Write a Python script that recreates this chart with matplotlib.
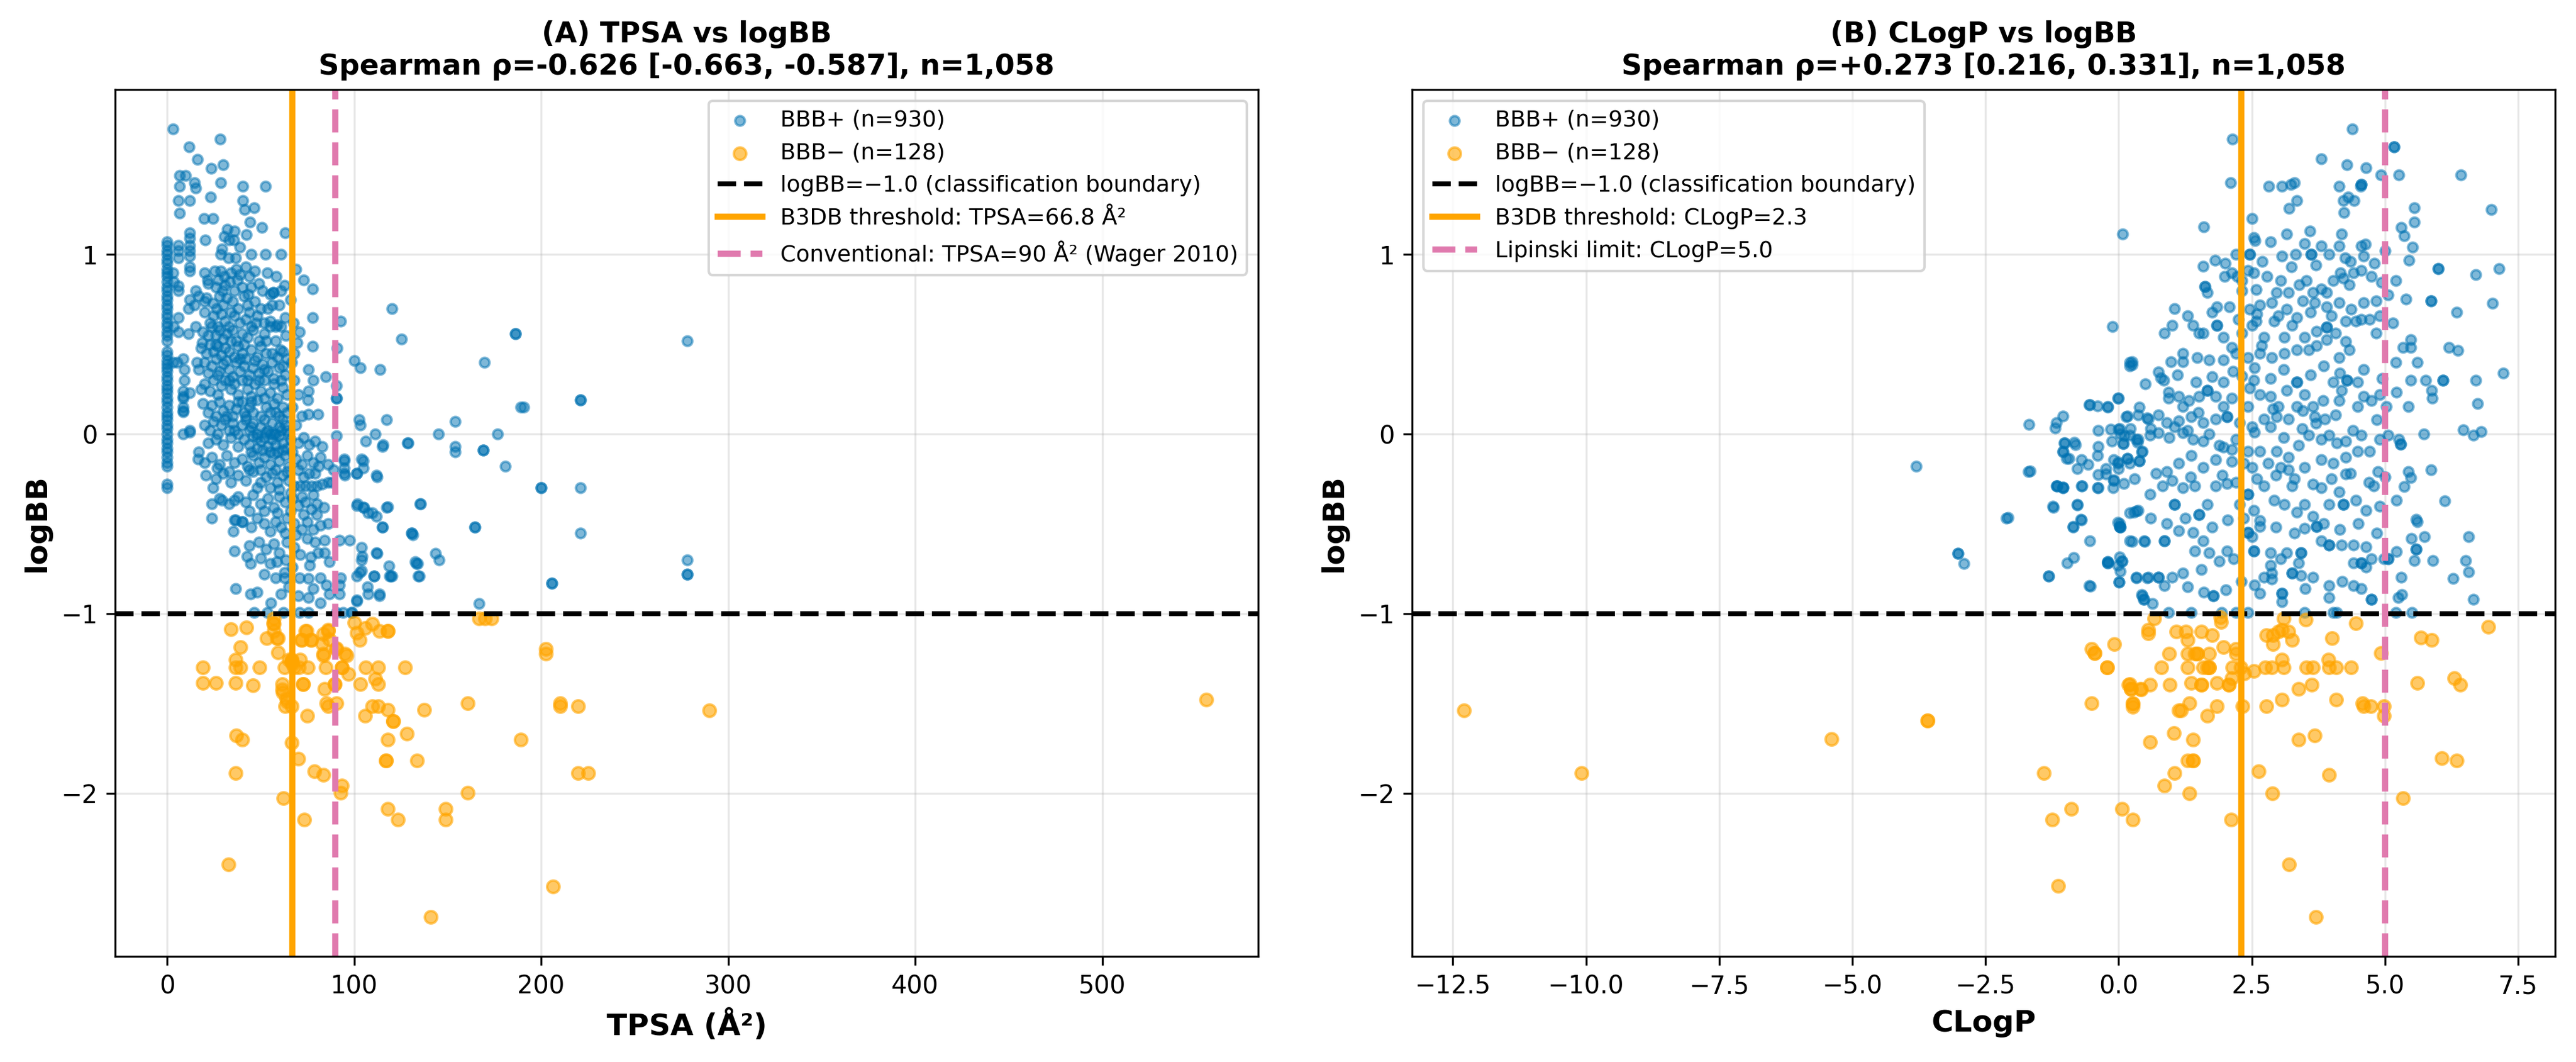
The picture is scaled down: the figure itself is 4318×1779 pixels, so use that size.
import numpy as np
import matplotlib
matplotlib.use("Agg")
import matplotlib.pyplot as plt

# ---- data (TPSA, logBB) / (CLogP, logBB) ----
tpsa_zero_logbb = [1.07, 1.05, 1.02, 1.0, 0.97, 0.95, 0.92, 0.9, 0.88, 0.85, 0.82, 0.8, 0.77, 0.75,
                   0.72, 0.7, 0.67, 0.65, 0.62, 0.6, 0.57, 0.55, 0.52, 0.46, 0.44, 0.41, 0.39, 0.37,
                   0.35, 0.32, 0.3, 0.27, 0.25, 0.23, 0.2, 0.18, 0.15, 0.12, 0.1, 0.08, 0.05, 0.03,
                   0.0, -0.03, -0.05, -0.08, -0.1, -0.13, -0.16, -0.18, -0.28, -0.3]

tpsa_pos_pts = [
    # upper sparse part
    (3.2, 1.70), (28.2, 1.645), (11.7, 1.60), (16.2, 1.53), (23.7, 1.48), (30.1, 1.50), (6.6, 1.44),
    (9.7, 1.44), (14.6, 1.40), (15.2, 1.37), (6.6, 1.38), (28.8, 1.40), (40.5, 1.38), (52.5, 1.38),
    (23.1, 1.32), (6.0, 1.30), (12.1, 1.30), (40.5, 1.30), (41.5, 1.25), (46.4, 1.26), (6.6, 1.23),
    (19.8, 1.20), (24.4, 1.20), (44.3, 1.18), (50.6, 1.15), (20.4, 1.08), (32.3, 1.14), (36.0, 1.13),
    (42.5, 1.11), (63.2, 1.12), (12.1, 1.12), (12.1, 1.09), (12.1, 1.05), (12.1, 1.02), (12.1, 0.99),
    (12.1, 0.93), (12.1, 0.91), (6.0, 1.05), (6.0, 1.02), (6.0, 0.98), (30.5, 1.10), (33.0, 1.08),
    (35.6, 1.08), (39.0, 1.04), (28.6, 1.00), (32.9, 0.98), (36.6, 0.98), (29.2, 1.03), (44.8, 1.00),
    (52.7, 1.00), (61.0, 1.00), (3.2, 0.90), (3.5, 0.85), (3.5, 0.60), (3.2, 0.40),
    # low-TPSA columns
    (6.0, 0.825), (6.0, 0.80), (12.1, 0.75), (15.2, 0.80), (11.5, 0.70), (15.2, 0.60), (11.5, 0.56),
    (8.5, 0.42), (9.1, 0.36), (9.1, 0.30), (8.5, 0.24), (8.5, 0.21), (8.5, 0.15), (8.5, 0.125),
    (12.1, 0.23), (12.1, 0.01), (15.8, 0.40), (14.6, 0.72), (17.0, 0.77), (20.1, 0.74), (18.8, 0.51),
    (6.0, 0.65), (6.0, 0.57), (5.4, 0.40), (8.5, 0.2), (8.5, 0.13), (8.5, 0.0), (12.1, 0.02),
    # dense core above 0
    (20.1, 0.90), (25.6, 0.91), (28.6, 0.91), (30.5, 0.88), (34.1, 0.9), (37, 0.92), (39, 0.89),
    (42.1, 0.93), (44, 0.88), (47, 0.91), (53.7, 0.90), (58.4, 0.88),
    (22, 0.84), (26, 0.82), (27.5, 0.86), (31, 0.83), (33.5, 0.85), (36, 0.8), (40, 0.82), (45, 0.82),
    (49, 0.84), (55, 0.78), (62.9, 0.83),
    (21, 0.76), (24.5, 0.73), (28, 0.77), (30, 0.72), (32, 0.76), (35, 0.74), (38, 0.7), (41, 0.77),
    (43, 0.72), (47, 0.74), (50, 0.7), (56, 0.72), (56.8, 0.79), (56.8, 0.79),
    (20, 0.68), (23, 0.62), (25, 0.66), (27, 0.6), (29, 0.67), (31, 0.63), (33, 0.6), (36, 0.66),
    (39, 0.62), (42, 0.64), (45, 0.6), (48, 0.66), (52, 0.62), (55, 0.63), (59, 0.61), (63, 0.65),
    (19, 0.57), (22, 0.55), (24, 0.6), (26, 0.55), (28, 0.58), (30, 0.53), (32, 0.56), (35, 0.58),
    (37, 0.52), (40, 0.56), (43, 0.54), (46, 0.58), (49, 0.52), (52, 0.56), (55, 0.6), (58, 0.6),
    (61, 0.6), (63.5, 0.55),
    (18, 0.48), (21, 0.45), (23, 0.5), (25, 0.46), (27, 0.49), (29, 0.44), (31, 0.48), (33, 0.46),
    (36, 0.43), (38, 0.49), (40, 0.45), (42, 0.42), (45, 0.47), (48, 0.43), (50, 0.49), (53, 0.45),
    (56, 0.4), (59, 0.43), (62, 0.46), (64, 0.42),
    (17, 0.36), (20, 0.4), (22, 0.34), (24, 0.38), (26, 0.42), (28, 0.35), (30, 0.39), (33, 0.36),
    (35, 0.32), (37, 0.4), (39, 0.35), (41, 0.38), (44, 0.33), (46, 0.37), (49, 0.34), (51, 0.39),
    (54, 0.35), (57, 0.31), (60, 0.37), (63, 0.33),
    (18, 0.25), (20, 0.28), (23, 0.24), (25, 0.3), (27, 0.22), (29, 0.27), (31, 0.3), (34, 0.25),
    (36, 0.28), (38, 0.22), (40, 0.3), (43, 0.25), (45, 0.21), (47, 0.28), (50, 0.24), (52, 0.3),
    (55, 0.23), (57, 0.28), (59, 0.2), (62, 0.26), (64, 0.22),
    (19, 0.17), (22, 0.12), (24, 0.16), (26, 0.1), (28, 0.18), (30, 0.13), (33, 0.16), (35, 0.1),
    (37, 0.14), (40, 0.18), (42, 0.1), (44, 0.15), (46, 0.12), (48, 0.19), (50, 0.1), (53, 0.15),
    (55, 0.12), (57, 0.17), (60, 0.1), (62, 0.15), (64, 0.12),
    (20, 0.05), (23, 0.02), (25, 0.07), (27, 0.0), (29, 0.05), (31, 0.08), (33, 0.02), (35, 0.06),
    (38, 0.0), (40, 0.05), (42, 0.08), (44, 0.02), (46, 0.06), (48, 0.0), (50, 0.04), (52, 0.08),
    (54, 0.02), (56, 0.06), (58, 0.0), (60, 0.04), (62, 0.08), (64, 0.02),
    (21.5, 0.86), (29.5, 0.8), (37.5, 0.86), (43.5, 0.78), (51, 0.8), (54, 0.7), (60, 0.72),
    (61, 0.8), (26.5, 0.7), (34, 0.68), (44, 0.68), (47.5, 0.62), (58, 0.52), (60.5, 0.47),
    (53, 0.52), (34, 0.52), (26, 0.5), (41, 0.5), (31.5, 0.41), (47, 0.41), (39, 0.42), (56, 0.45),
    (52, 0.36), (62, 0.38), (43, 0.3), (33, 0.3), (49, 0.3), (61, 0.3), (27, 0.33), (38, 0.18),
    (52, 0.2), (45, 0.18), (58, 0.12), (32, 0.1), (41, 0.12), (63, 0.05), (55, 0.0), (45, 0.04),
    (36, 0.02),
    # just right of the B3DB line, above 0
    (69.0, 0.92), (73.0, 0.86), (77.9, 0.81), (77.9, 0.65), (70.8, 0.57), (69.6, 0.51), (77.9, 0.49),
    (75.7, 0.36), (78.2, 0.30), (75.7, 0.24), (75.1, 0.19), (75.7, 0.11), (80.6, 0.11), (84.9, 0.32),
    (90.4, 0.27), (90.4, 0.20), (92.8, 0.63), (91.0, 0.48), (68.0, 0.30), (70.0, 0.22), (67.0, 0.15),
    (69.0, 0.05), (72.0, 0.10), (66.5, 0.40), (67.5, 0.62), (66.0, 0.75), (68.0, 0.45),
    # dense core below 0
    (22, -0.05), (26, -0.03), (30, -0.06), (34, -0.02), (38, -0.07), (41, -0.03), (44, -0.06),
    (46, -0.01), (48, -0.08), (50, -0.04), (52, -0.02), (54, -0.07), (56, -0.03), (58, -0.06),
    (60, -0.01), (62, -0.05), (64, -0.08), (66, -0.03), (70, -0.05), (73, -0.02), (76, -0.06),
    (79, -0.04), (83, -0.07),
    (24, -0.13), (28, -0.17), (32, -0.12), (36, -0.16), (40, -0.14), (43, -0.18), (46, -0.12),
    (49, -0.16), (52, -0.13), (55, -0.17), (57, -0.11), (60, -0.15), (63, -0.12), (65, -0.18),
    (69, -0.14), (72, -0.17), (75, -0.12), (78, -0.16), (82, -0.13), (86, -0.17), (89, -0.2),
    (26, -0.25), (30, -0.22), (34, -0.27), (38, -0.23), (42, -0.26), (46, -0.21), (50, -0.27),
    (53, -0.24), (56, -0.22), (59, -0.27), (62, -0.23), (65, -0.26), (68, -0.29), (71, -0.29),
    (74, -0.29), (77, -0.29), (80, -0.29), (83, -0.28), (86, -0.27), (88, -0.27), (73, -0.24),
    (79, -0.22),
    (28, -0.36), (33, -0.39), (38, -0.35), (42, -0.38), (46, -0.34), (50, -0.39), (54, -0.36),
    (57, -0.41), (60, -0.35), (63, -0.38), (67, -0.36), (70, -0.4), (74, -0.38), (77, -0.42),
    (80, -0.39), (84, -0.41),
    (36, -0.48), (40, -0.49), (45, -0.52), (48, -0.47), (52, -0.5), (55, -0.54), (58, -0.49),
    (61, -0.52), (64, -0.47), (68, -0.5), (72, -0.53), (75, -0.49), (78, -0.53), (82, -0.51),
    (86, -0.5),
    (35.4, -0.54), (36, -0.65), (44, -0.62), (49, -0.6), (53, -0.64), (57, -0.61), (60, -0.66),
    (64, -0.6), (68, -0.63), (71, -0.67), (84.3, -0.59), (92.2, -0.59), (97.7, -0.59),
    (42.7, -0.68), (44.6, -0.72), (50.1, -0.69), (55, -0.72), (58.6, -0.71), (63.5, -0.70),
    (67, -0.74), (76.9, -0.685), (80.6, -0.66), (84.3, -0.66), (86.7, -0.71), (76.3, -0.73),
    (17, -0.1), (16.4, -0.14), (20.1, -0.16), (20.7, -0.23), (24.4, -0.3), (23.8, -0.39),
    (23.8, -0.47), (26.8, -0.19), (33, -0.21), (29.3, -0.37), (36, -0.37), (36.6, -0.48),
    (40.2, -0.49), (36.6, -0.86), (44.6, -0.89), (55.6, -0.94), (61, -0.89), (62.9, -0.77),
    (62.9, -0.80),
    (45, -0.1), (51, -0.09), (55, -0.1), (59, -0.1), (62, -0.09), (48, -0.02), (53, 0.01),
    (57, 0.0), (61, 0.02), (65, 0.0), (44, -0.2), (50, -0.2), (58, -0.2), (64, -0.21), (67, -0.1),
    (70, -0.2), (76, -0.22), (81, -0.18), (55, -0.3), (60, -0.31), (48, -0.3), (66, -0.33),
    (72, -0.35), (78, -0.34), (44, -0.43), (52, -0.43), (59, -0.44), (66, -0.43), (73, -0.45),
    (80, -0.45), (69, -0.56), (63, -0.55), (75, -0.58), (79, -0.6), (58, -0.8), (65, -0.85),
    (70, -0.9), (78, -0.86), (85, -0.84), (52, -0.78), (48, -0.88),
    # close to the logBB = -1 boundary
    (46.4, -0.995), (53.7, -0.995), (62.3, -0.995), (70.8, -0.995), (75.7, -0.995), (90.4, -0.995),
    (94, -0.995), (98.9, -0.995), (75.7, -0.91), (81.8, -0.94), (86.7, -0.89), (92.2, -0.89),
    (92.2, -0.84), (101.4, -0.925), (107.5, -0.89), (113.6, -0.89), (70.8, -0.80), (75.7, -0.805),
    (81.8, -0.80), (92.8, -0.80), (101.4, -0.79), (103.8, -0.76), (110.5, -0.79), (119.1, -0.79),
    (134.4, -0.79),
    # high-TPSA sparse part
    (120.3, 0.70), (125.2, 0.53), (100.2, 0.41), (103.2, 0.37), (113.9, 0.36), (169.6, 0.40),
    (186.4, 0.56), (186.4, 0.56), (278.0, 0.52), (189.0, 0.15), (190.8, 0.15), (221.0, 0.19),
    (221.0, 0.19), (153.9, 0.07), (145.0, 0.0), (176.7, 0.0), (111.2, 0.0), (117.3, 0.08),
    (102.6, 0.08), (103.2, 0.05), (128.6, -0.05), (153.9, -0.07), (153.9, -0.10), (168.9, -0.09),
    (168.9, -0.09), (115.2, -0.07), (106.3, -0.04), (180.8, -0.18), (94.6, -0.14), (95.1, -0.23),
    (101.3, -0.22), (104.0, -0.14), (111.9, -0.23), (199.8, -0.30), (199.8, -0.30), (221.0, -0.30),
    (135.3, -0.39), (117.4, -0.41), (105.1, -0.41), (109.6, -0.44), (101.8, -0.39), (164.4, -0.52),
    (164.4, -0.52), (130.9, -0.55), (130.9, -0.55), (115.2, -0.52), (221.0, -0.55), (132.7, -0.71),
    (133.8, -0.72), (143.6, -0.665), (145.4, -0.70), (278.0, -0.70), (278.0, -0.78), (278.0, -0.78),
    (205.8, -0.83), (205.8, -0.83), (166.7, -0.945), (134.9, -0.79), (119.7, -0.79), (110.7, -0.79),
    (102.9, -0.77), (104.0, -0.70), (111.9, -0.66), (107.0, -0.85), (113.4, -0.90), (101.3, -0.93),
    (98.4, -0.995), (90.4, -0.01), (90.4, 0.2), (128.9, -0.05), (115.4, -0.06), (94.6, -0.15),
    (94.6, -0.19), (94.6, -0.22), (101.4, -0.22), (105, -0.19), (105, -0.15), (112.4, -0.24),
    (101.4, -0.40), (105, -0.41), (107.5, -0.44), (111.8, -0.46), (115, -0.52), (118, -0.405),
    (135.6, -0.39), (131.3, -0.56), (133.2, -0.72), (103.8, -0.63), (104.4, -0.68), (112.4, -0.665),
    (118.5, -0.735), (120.3, -0.79),
]

tpsa_neg_pts = [
    (57.0, -1.028), (57.0, -1.058), (34.0, -1.088), (42.5, -1.078), (57.0, -1.097), (53.2, -1.137),
    (58.8, -1.137), (74.5, -1.097), (71.8, -1.147), (77.2, -1.147), (83.4, -1.113), (86.1, -1.097),
    (83.0, -1.166), (39.1, -1.186), (59.3, -1.216), (90.2, -1.196), (95.1, -1.225), (83.4, -1.225),
    (83.4, -1.235), (101.3, -1.107), (102.9, -1.147), (109.6, -1.058), (113.4, -1.097),
    (118.1, -1.097), (118.1, -1.097), (166.7, -1.028), (170.0, -1.028), (173.4, -1.028),
    (202.5, -1.196), (202.5, -1.225), (19.0, -1.30), (19.0, -1.387), (26.2, -1.387), (36.5, -1.255),
    (36.5, -1.30), (39.1, -1.30), (36.5, -1.387), (45.9, -1.399), (49.4, -1.30), (62.9, -1.30),
    (66.7, -1.255), (66.7, -1.265), (70.5, -1.30), (75.4, -1.30), (72.7, -1.393), (72.7, -1.393),
    (61.5, -1.393), (61.5, -1.422), (63.8, -1.472), (63.1, -1.517), (66.7, -1.517), (84.8, -1.30),
    (93.5, -1.30), (93.5, -1.30), (96.9, -1.338), (84.3, -1.418), (89.5, -1.393), (89.5, -1.393),
    (85.2, -1.501), (86.1, -1.517), (90.6, -1.501), (103.4, -1.393), (106.3, -1.30), (113.0, -1.30),
    (111.2, -1.363), (113.0, -1.393), (127.3, -1.30), (109.6, -1.517), (113.0, -1.517),
    (118.1, -1.537), (105.8, -1.57), (121.0, -1.60), (121.0, -1.60), (74.9, -1.57), (137.6, -1.537),
    (160.6, -1.501), (210.3, -1.501), (210.3, -1.517), (219.7, -1.517), (36.9, -1.678),
    (40.3, -1.702), (66.7, -1.718), (118.1, -1.702), (128.2, -1.668), (189.0, -1.702), (70.0, -1.81),
    (78.7, -1.879), (83.4, -1.899), (36.5, -1.889), (117.0, -1.82), (117.0, -1.82), (133.6, -1.82),
    (219.7, -1.889), (225.3, -1.889), (93.5, -1.958), (92.8, -1.998), (62.2, -2.029),
    (160.6, -1.999), (118.1, -2.088), (123.3, -2.149), (73.2, -2.149), (148.8, -2.088),
    (148.8, -2.149), (32.9, -2.397), (206.3, -2.52), (140.9, -2.69), (290.0, -1.54), (555.6, -1.48),
    (56.7, -1.053), (59.2, -1.136), (73.9, -1.098), (72.0, -1.148), (76.9, -1.148), (86.1, -1.092),
    (86.7, -1.142), (90.4, -1.193), (95.9, -1.232), (66.5, -1.263), (65.0, -1.255), (67.0, -1.28),
    (71.0, -1.255), (68.0, -1.30), (62.0, -1.44), (64.0, -1.49), (100.0, -1.05), (106.0, -1.08),
]

clogp_pos_pts = [
    # left tail
    (-3.80, -0.18), (-3.02, -0.666), (-3.02, -0.666), (-2.9, -0.72), (-1.68, 0.053), (-1.665, -0.206),
    (-2.08, -0.466), (-1.31, -0.79), (-1.31, -0.79), (-1.165, 0.065), (-1.19, 0.033), (-1.04, 0.10),
    (-1.025, -0.05), (-1.04, -0.098), (-0.98, -0.135), (-0.83, -0.046), (-0.805, -0.06),
    (-1.165, -0.29), (-1.04, -0.30), (-1.04, -0.30), (-1.225, -0.407), (-0.78, -0.395),
    (-0.775, -0.194), (-0.58, -0.168), (-0.69, -0.29), (-0.71, -0.476), (-0.85, -0.518),
    (-0.965, -0.718), (-0.84, -0.687), (-0.54, 0.162), (-0.54, -0.595), (-0.53, -0.847),
    (-0.39, 0.02), (-0.39, -0.068), (-0.39, -0.227), (-0.38, -0.298), (-0.24, -0.194), (-0.2, 0.151),
    (-0.15, 0.028), (-0.13, -0.039), (-0.2, -0.711), (-0.2, -0.711), (-0.09, -0.26), (-0.1, -0.298),
    (0.0, 0.199), (0.0, 0.028), (0.035, 0.0), (0.11, -0.01), (0.085, -0.053), (0.085, -0.053),
    (0.0, -0.157), (0.0, -0.194), (0.02, -0.5), (0.035, -0.52), (0.035, -0.52), (0.035, -0.766),
    (0.01, -0.825), (0.01, -0.825), (0.16, 0.10), (0.225, 0.03), (0.385, 0.15), (0.535, 0.09),
    (0.335, -0.03), (0.36, -0.046), (0.435, -0.098), (0.385, -0.15), (0.385, -0.15), (0.16, -0.135),
    (0.16, -0.135), (0.21, -0.44), (0.335, -0.43), (0.25, -0.598), (0.485, -0.598), (0.335, -0.80),
    (0.535, -0.80), (0.435, -0.895), (0.47, -0.92), (-0.115, 0.60), (0.21, 0.40), (0.25, 0.385),
    # top and right sparse part
    (4.39, 1.70), (2.14, 1.643), (5.17, 1.60), (5.17, 1.60), (3.81, 1.535), (4.29, 1.50),
    (4.65, 1.485), (6.43, 1.444), (4.92, 1.444), (5.26, 1.444), (2.10, 1.40), (2.82, 1.38),
    (3.07, 1.38), (3.23, 1.39), (3.30, 1.40), (4.14, 1.38), (4.54, 1.38), (4.56, 1.39), (4.56, 1.39),
    (3.34, 1.30), (3.20, 1.257), (4.22, 1.30), (4.31, 1.32), (4.42, 1.30), (4.23, 1.233),
    (5.55, 1.26), (5.55, 1.18), (7.0, 1.25), (2.50, 1.20), (1.60, 1.153), (0.076, 1.115),
    (5.30, 1.15), (5.36, 1.104), (5.52, 1.043), (5.45, 0.968), (6.0, 0.923), (6.0, 0.923),
    (6.71, 0.889), (7.14, 0.923), (7.02, 0.73), (6.35, 0.68), (6.2, 0.482), (6.37, 0.466),
    (7.22, 0.341), (5.86, 0.742), (5.86, 0.742), (6.70, 0.30), (6.09, 0.30), (6.09, 0.30),
    (6.74, 0.17), (6.47, 0.024), (6.66, -0.005), (6.81, 0.013), (5.48, 0.526), (5.48, 0.482),
    (5.34, 0.482), (5.61, 0.40), (5.48, 0.30), (5.77, 0.30), (5.88, 0.244), (5.89, 0.199),
    (5.44, 0.153), (5.22, 0.233), (5.73, 0.0), (5.26, -0.03), (5.29, -0.055), (5.29, -0.055),
    (5.86, -0.198), (5.44, -0.21), (5.48, -0.243), (5.36, -0.293), (5.22, -0.368), (6.12, -0.372),
    (5.59, -0.475), (5.61, -0.49), (5.50, -0.583), (5.74, -0.572), (5.59, -0.64), (5.59, -0.64),
    (6.57, -0.572), (5.90, -0.703), (5.55, -0.703), (6.51, -0.703), (6.57, -0.768), (6.28, -0.805),
    (5.32, -0.893), (6.66, -0.922), (5.06, -0.696), (5.06, -0.696), (5.22, -0.655),
    # core, logBB around 1.0
    (1.81, 0.968), (2.12, 0.90), (2.31, 0.855), (2.54, 0.90), (2.46, 1.0), (2.46, 1.0), (2.85, 1.07),
    (3.07, 0.99), (3.32, 1.0), (3.49, 1.06), (3.61, 1.0), (3.61, 1.0), (3.80, 1.048), (3.95, 1.0),
    (4.14, 1.048), (4.18, 1.115), (4.25, 0.98), (4.56, 1.048), (4.60, 0.99), (4.63, 1.059),
    (3.15, 1.115), (3.59, 1.13), (2.54, 1.093), (2.56, 1.077), (1.59, 0.934),
    (2.0, 0.95), (2.7, 0.96), (3.25, 0.93), (3.7, 0.94), (4.35, 0.96), (4.8, 0.95), (5.0, 1.02),
    (2.2, 1.0),
    # core, logBB around 0.8
    (1.99, 0.878), (2.23, 0.878), (2.31, 0.799), (2.43, 0.912), (2.58, 0.805), (2.79, 0.878),
    (2.96, 0.787), (3.04, 0.855), (3.19, 0.787), (3.39, 0.833), (3.53, 0.855), (3.65, 0.787),
    (3.80, 0.81), (3.91, 0.787), (4.03, 0.855), (4.16, 0.90), (4.22, 0.867), (4.33, 0.833),
    (4.41, 0.90), (4.56, 0.912), (4.75, 0.878), (4.94, 0.844), (5.06, 0.776), (5.21, 0.855),
    (5.40, 0.753), (4.83, 0.742), (4.60, 0.731), (4.37, 0.697), (4.14, 0.731), (3.91, 0.708),
    (3.68, 0.731), (3.46, 0.742), (3.15, 0.697), (2.88, 0.731), (2.65, 0.72), (2.46, 0.697),
    (2.08, 0.708), (1.85, 0.708), (1.62, 0.821), (1.62, 0.821), (1.66, 0.787),
    (1.3, 0.66), (1.75, 0.68), (2.25, 0.64), (2.6, 0.67), (3.0, 0.66), (3.35, 0.65), (3.6, 0.68),
    (4.0, 0.66), (4.45, 0.63), (4.9, 0.66), (5.15, 0.62), (1.05, 0.7),
    # core, logBB around 0.5
    (0.86, 0.561), (1.01, 0.606), (1.40, 0.606), (1.51, 0.561), (1.59, 0.561), (1.85, 0.606),
    (1.85, 0.606), (1.97, 0.538), (2.12, 0.482), (2.31, 0.561), (2.50, 0.606), (2.58, 0.629),
    (2.73, 0.538), (2.69, 0.493), (2.92, 0.629), (3.11, 0.538), (3.26, 0.606), (3.49, 0.538),
    (3.72, 0.572), (3.91, 0.595), (3.91, 0.595), (4.07, 0.561), (4.26, 0.629), (4.56, 0.64),
    (4.71, 0.64), (4.83, 0.561), (4.33, 0.47), (4.14, 0.425), (3.91, 0.527), (3.72, 0.493),
    (3.57, 0.47), (3.34, 0.47), (3.11, 0.448), (2.88, 0.425), (2.65, 0.448), (2.43, 0.425),
    (2.20, 0.448), (1.97, 0.414), (1.70, 0.414), (1.47, 0.425), (1.21, 0.402), (0.98, 0.402),
    (0.75, 0.346), (0.79, 0.312), (0.25, 0.402), (0.21, 0.38), (1.21, 0.448), (4.26, 0.516),
    (0.5, 0.28), (0.85, 0.3), (1.1, 0.33), (1.45, 0.29), (1.75, 0.32), (2.15, 0.35), (2.55, 0.37),
    (2.85, 0.31), (3.1, 0.36), (3.6, 0.33), (3.85, 0.38), (4.15, 0.34), (4.6, 0.36), (4.95, 0.31),
    (5.2, 0.4),
    # core, logBB around 0.15
    (0.94, 0.199), (1.13, 0.21), (1.32, 0.187), (1.51, 0.21), (1.66, 0.244), (1.66, 0.244),
    (1.82, 0.21), (1.97, 0.289), (2.12, 0.199), (2.31, 0.323), (2.46, 0.255), (2.54, 0.30),
    (2.65, 0.221), (2.85, 0.21), (3.0, 0.153), (3.15, 0.244), (3.34, 0.289), (3.34, 0.289),
    (3.49, 0.221), (3.65, 0.153), (3.84, 0.187), (4.03, 0.289), (4.18, 0.244), (4.29, 0.30),
    (4.29, 0.30), (4.49, 0.289), (4.60, 0.21), (4.75, 0.187), (4.90, 0.221), (5.02, 0.153),
    (4.49, 0.153), (4.07, 0.108), (3.87, 0.085), (3.68, 0.097), (3.46, 0.131), (3.19, 0.085),
    (2.96, 0.097), (2.73, 0.085), (2.50, 0.04), (2.27, 0.063), (2.04, 0.097), (2.04, 0.097),
    (1.82, 0.085), (1.59, 0.063), (1.36, 0.097), (1.13, 0.074), (0.90, 0.063), (0.75, 0.108),
    (0.56, 0.085), (0.37, 0.108), (0.14, 0.097), (-0.02, 0.199), (-0.21, 0.153), (-0.40, 0.158),
    (-0.55, 0.165), (0.94, 0.233), (1.21, 0.153), (1.97, 0.153), (2.43, 0.153), (3.34, 0.153),
    (4.14, 0.187),
    (0.6, 0.03), (0.95, -0.02), (1.3, 0.02), (1.7, 0.0), (2.2, -0.03), (2.55, 0.01), (2.85, 0.04),
    (3.1, -0.02), (3.45, 0.03), (3.7, 0.06), (4.4, 0.02), (4.85, 0.08), (1.5, 0.12), (2.9, 0.14),
    # core, logBB around -0.1
    (0.02, 0.029), (0.21, -0.005), (0.37, -0.028), (0.59, -0.005), (0.75, 0.006), (1.05, 0.04),
    (1.21, 0.006), (1.40, -0.028), (1.59, -0.039), (1.89, -0.062), (1.97, -0.073), (2.12, -0.085),
    (2.43, -0.096), (2.65, -0.096), (2.96, -0.096), (3.19, -0.13), (3.38, -0.062), (3.57, -0.005),
    (3.80, -0.028), (3.95, -0.005), (4.10, -0.05), (4.26, -0.039), (4.56, -0.005), (4.71, -0.096),
    (4.90, -0.028), (5.06, -0.005), (0.44, -0.096), (0.21, -0.164), (-0.02, -0.164), (0.90, -0.209),
    (1.13, -0.164), (1.36, -0.119), (1.59, -0.187), (1.82, -0.141), (2.12, -0.153), (2.35, -0.164),
    (2.50, -0.187), (2.81, -0.164), (3.04, -0.187), (3.19, -0.198), (3.49, -0.187), (3.80, -0.141),
    (4.03, -0.164), (4.26, -0.13), (4.49, -0.096), (4.87, -0.209), (4.26, -0.221), (-0.70, -0.141),
    (-0.40, -0.119), (-0.24, -0.221), (-0.09, -0.141), (-1.01, -0.05), (-1.05, -0.096),
    (-0.93, -0.137),
    (0.3, -0.25), (0.7, -0.22), (1.0, -0.26), (1.35, -0.24), (1.95, -0.23), (2.2, -0.27),
    (2.6, -0.25), (2.95, -0.23), (3.3, -0.25), (3.65, -0.28), (4.0, -0.25), (4.35, -0.22),
    (4.7, -0.27), (5.0, -0.24),
    # core, logBB around -0.35
    (-1.16, -0.289), (-1.16, -0.289), (-1.04, -0.296), (-0.70, -0.289), (-0.40, -0.30),
    (-0.09, -0.255), (0.10, -0.277), (0.29, -0.436), (0.37, -0.424), (0.59, -0.334), (0.82, -0.289),
    (1.05, -0.391), (1.05, -0.391), (1.21, -0.30), (1.43, -0.289), (1.51, -0.447), (1.51, -0.447),
    (1.66, -0.391), (1.82, -0.289), (2.04, -0.277), (2.27, -0.391), (2.43, -0.334), (2.43, -0.334),
    (2.54, -0.424), (2.65, -0.481), (2.73, -0.289), (2.92, -0.368), (3.11, -0.391), (3.26, -0.289),
    (3.34, -0.436), (3.49, -0.391), (3.65, -0.458), (3.80, -0.30), (3.95, -0.391), (4.14, -0.323),
    (4.22, -0.391), (4.22, -0.391), (4.45, -0.368), (4.64, -0.424), (4.79, -0.289), (4.90, -0.402),
    (-0.78, -0.391), (-1.24, -0.402), (-1.69, -0.209), (-2.11, -0.47), (-0.85, -0.515),
    (-0.70, -0.477), (-0.02, -0.492), (0.02, -0.515), (0.02, -0.515),
    (0.6, -0.47), (0.9, -0.5), (1.25, -0.47), (1.75, -0.52), (2.05, -0.48), (2.35, -0.47),
    (2.95, -0.52), (3.3, -0.55), (3.85, -0.5), (4.15, -0.53), (4.5, -0.5), (4.85, -0.55),
    # core, logBB around -0.65
    (0.21, -0.594), (0.48, -0.594), (0.86, -0.594), (0.86, -0.594), (1.13, -0.538), (1.40, -0.549),
    (1.59, -0.594), (1.43, -0.651), (1.70, -0.662), (1.89, -0.707), (2.04, -0.651), (2.16, -0.696),
    (2.43, -0.549), (2.43, -0.549), (2.50, -0.572), (2.65, -0.515), (2.54, -0.651), (2.54, -0.651),
    (2.85, -0.662), (3.04, -0.696), (3.15, -0.662), (3.42, -0.662), (3.42, -0.662), (3.38, -0.719),
    (3.26, -0.775), (3.26, -0.775), (3.42, -0.787), (3.65, -0.798), (3.49, -0.526), (3.72, -0.515),
    (3.72, -0.515), (3.80, -0.594), (3.95, -0.617), (3.95, -0.617), (4.18, -0.617), (4.41, -0.617),
    (4.64, -0.628), (4.75, -0.696), (4.56, -0.719), (4.56, -0.719), (4.41, -0.719), (4.64, -0.741),
    (4.98, -0.696), (2.85, -0.730), (2.87, -0.775), (2.73, -0.798), (-0.21, -0.719), (-0.21, -0.719),
    (0.02, -0.685), (0.06, -0.707), (0.06, -0.707), (0.33, -0.798), (0.56, -0.798), (0.75, -0.798),
    (0.75, -0.798), (-0.55, -0.843), (-0.02, -0.73), (2.88, -0.809), (3.95, -0.843), (4.41, -0.843),
    # core, logBB around -0.9
    (0.44, -0.9), (0.48, -0.922), (0.63, -0.945), (0.86, -0.843), (1.01, -0.798), (1.21, -0.775),
    (1.55, -0.753), (1.78, -0.90), (1.78, -0.90), (2.01, -0.866), (2.65, -0.888), (3.07, -0.888),
    (3.07, -0.888), (3.07, -0.934), (3.95, -0.911), (4.75, -0.922), (4.75, -0.922), (5.31, -0.798),
    (5.25, -0.911), (0.94, -0.995), (1.36, -0.995), (1.93, -0.995), (2.20, -0.995), (2.43, -0.995),
    (3.49, -0.995), (4.03, -0.995), (4.10, -0.995), (5.21, -0.995), (5.51, -0.995),
    (1.3, -0.85), (1.6, -0.88), (2.3, -0.82), (2.55, -0.84), (3.5, -0.86), (4.2, -0.82), (4.55, -0.86),
]

clogp_neg_pts = [
    (0.67, -1.028), (0.56, -1.09), (0.56, -1.11), (1.08, -1.10), (1.26, -1.10), (1.30, -1.146),
    (1.55, -1.10), (1.75, -1.119), (1.91, -1.021), (1.92, -1.048), (2.77, -1.119), (2.90, -1.119),
    (3.0, -1.10), (3.07, -1.09), (3.19, -1.10), (3.10, -1.028), (2.90, -1.169), (3.26, -1.146),
    (3.51, -1.033), (4.01, -1.137), (4.45, -1.055), (5.67, -1.135), (5.88, -1.146), (6.94, -1.074),
    (-0.51, -1.196), (-0.45, -1.219), (-0.45, -1.219), (-0.08, -1.169), (-0.22, -1.30),
    (-0.22, -1.30), (0.95, -1.225), (1.30, -1.225), (1.43, -1.225), (1.47, -1.225), (1.47, -1.225),
    (1.70, -1.225), (1.97, -1.187), (2.20, -1.196), (2.20, -1.225), (0.80, -1.30), (1.30, -1.30),
    (1.59, -1.30), (1.66, -1.30), (1.70, -1.30), (1.70, -1.30), (2.14, -1.30), (2.29, -1.30),
    (2.36, -1.332), (2.54, -1.32), (2.75, -1.30), (2.88, -1.30), (3.10, -1.30), (3.06, -1.255),
    (3.53, -1.30), (3.65, -1.30), (3.94, -1.255), (3.95, -1.30), (4.08, -1.30), (4.36, -1.30),
    (4.92, -1.219), (0.19, -1.395), (0.23, -1.418), (0.42, -1.422), (0.59, -1.395), (0.96, -1.395),
    (1.36, -1.388), (1.55, -1.395), (1.55, -1.395), (1.85, -1.388), (2.07, -1.395), (2.07, -1.395),
    (2.12, -1.361), (3.38, -1.418), (3.63, -1.395), (5.61, -1.388), (6.30, -1.361), (6.41, -1.395),
    (-0.51, -1.499), (0.27, -1.504), (0.27, -1.52), (1.13, -1.538), (1.17, -1.538), (1.33, -1.499),
    (1.85, -1.515), (1.66, -1.569), (2.33, -1.515), (2.77, -1.515), (3.07, -1.479), (4.08, -1.479),
    (4.58, -1.499), (4.60, -1.515), (4.73, -1.515), (4.98, -1.515), (4.98, -1.569), (1.04, -1.667),
    (1.40, -1.701), (0.59, -1.717), (3.38, -1.701), (3.68, -1.678), (1.30, -1.818), (1.40, -1.818),
    (1.40, -1.818), (6.07, -1.807), (6.35, -1.818), (-1.40, -1.889), (1.05, -1.889), (2.63, -1.878),
    (3.95, -1.898), (0.86, -1.957), (1.33, -2.0), (2.89, -2.0), (5.34, -2.029), (-0.89, -2.088),
    (-1.25, -2.147), (0.06, -2.088), (0.27, -2.147), (2.11, -2.147), (3.20, -2.398),
    (-1.14, -2.516), (3.70, -2.69), (-12.29, -1.538), (-10.08, -1.89), (-5.39, -1.70),
    (-3.59, -1.597), (-3.59, -1.597), (0.21, -1.394), (0.235, -1.419), (0.41, -1.419), (0.26, -1.50),
]

n_pos, n_neg, n_total = 930, 128, 1058
tpsa_b3db, tpsa_wager = 66.8, 90
clogp_b3db, clogp_lipinski = 2.3, 5.0
logbb_cut = -1.0

# ---- assemble arrays ----
tpsa_pos = np.array([0.0] * len(tpsa_zero_logbb) + [p[0] for p in tpsa_pos_pts])
logbb_pos_a = np.array(tpsa_zero_logbb + [p[1] for p in tpsa_pos_pts])
tpsa_neg, logbb_neg_a = np.array(tpsa_neg_pts).T
clogp_pos, logbb_pos_b = np.array(clogp_pos_pts).T
clogp_neg, logbb_neg_b = np.array(clogp_neg_pts).T

blue = '#0072B2'
orange = '#FFA500'
pink = '#E07AAE'

fig, (ax1, ax2) = plt.subplots(1, 2, figsize=(4318 / 300, 1779 / 300), dpi=300)
fig.subplots_adjust(left=0.0447, right=0.9919, bottom=0.0995, top=0.9157, wspace=0.1346)

panels = [
    (ax1, tpsa_pos, logbb_pos_a, tpsa_neg, logbb_neg_a, tpsa_b3db, tpsa_wager,
     'B3DB threshold: TPSA=66.8 Å²', 'Conventional: TPSA=90 Å² (Wager 2010)',
     '(A) TPSA vs logBB\nSpearman ρ=-0.626 [-0.663, -0.587], n=1,058', 'TPSA (Å²)', 'upper right'),
    (ax2, clogp_pos, logbb_pos_b, clogp_neg, logbb_neg_b, clogp_b3db, clogp_lipinski,
     'B3DB threshold: CLogP=2.3', 'Lipinski limit: CLogP=5.0',
     '(B) CLogP vs logBB\nSpearman ρ=+0.273 [0.216, 0.331], n=1,058', 'CLogP', 'upper left'),
]

for ax, xp, yp, xn, yn, thr, ref, thr_lab, ref_lab, title, xlab, loc in panels:
    ax.scatter(xp, yp, s=15, color=blue, alpha=0.5, label=f'BBB+ (n={n_pos})')
    ax.scatter(xn, yn, s=25, color=orange, alpha=0.6, label=f'BBB\u2212 (n={n_neg})')
    ax.axhline(logbb_cut, color='black', linestyle='--', linewidth=2,
               label='logBB=\u22121.0 (classification boundary)')
    ax.axvline(thr, color=orange, linestyle='-', linewidth=2.5, label=thr_lab)
    ax.axvline(ref, color=pink, linestyle='--', linewidth=2.5, label=ref_lab)
    ax.set_title(title, fontsize=11.5, fontweight='bold')
    ax.set_xlabel(xlab, fontsize=12, fontweight='bold')
    ax.set_ylabel('logBB', fontsize=12, fontweight='bold')
    ax.tick_params(labelsize=10)
    ax.grid(True, alpha=0.3)
    ax.set_axisbelow(True)
    ax.legend(loc=loc, fontsize=9)

fig.savefig('out.png', dpi=300)
